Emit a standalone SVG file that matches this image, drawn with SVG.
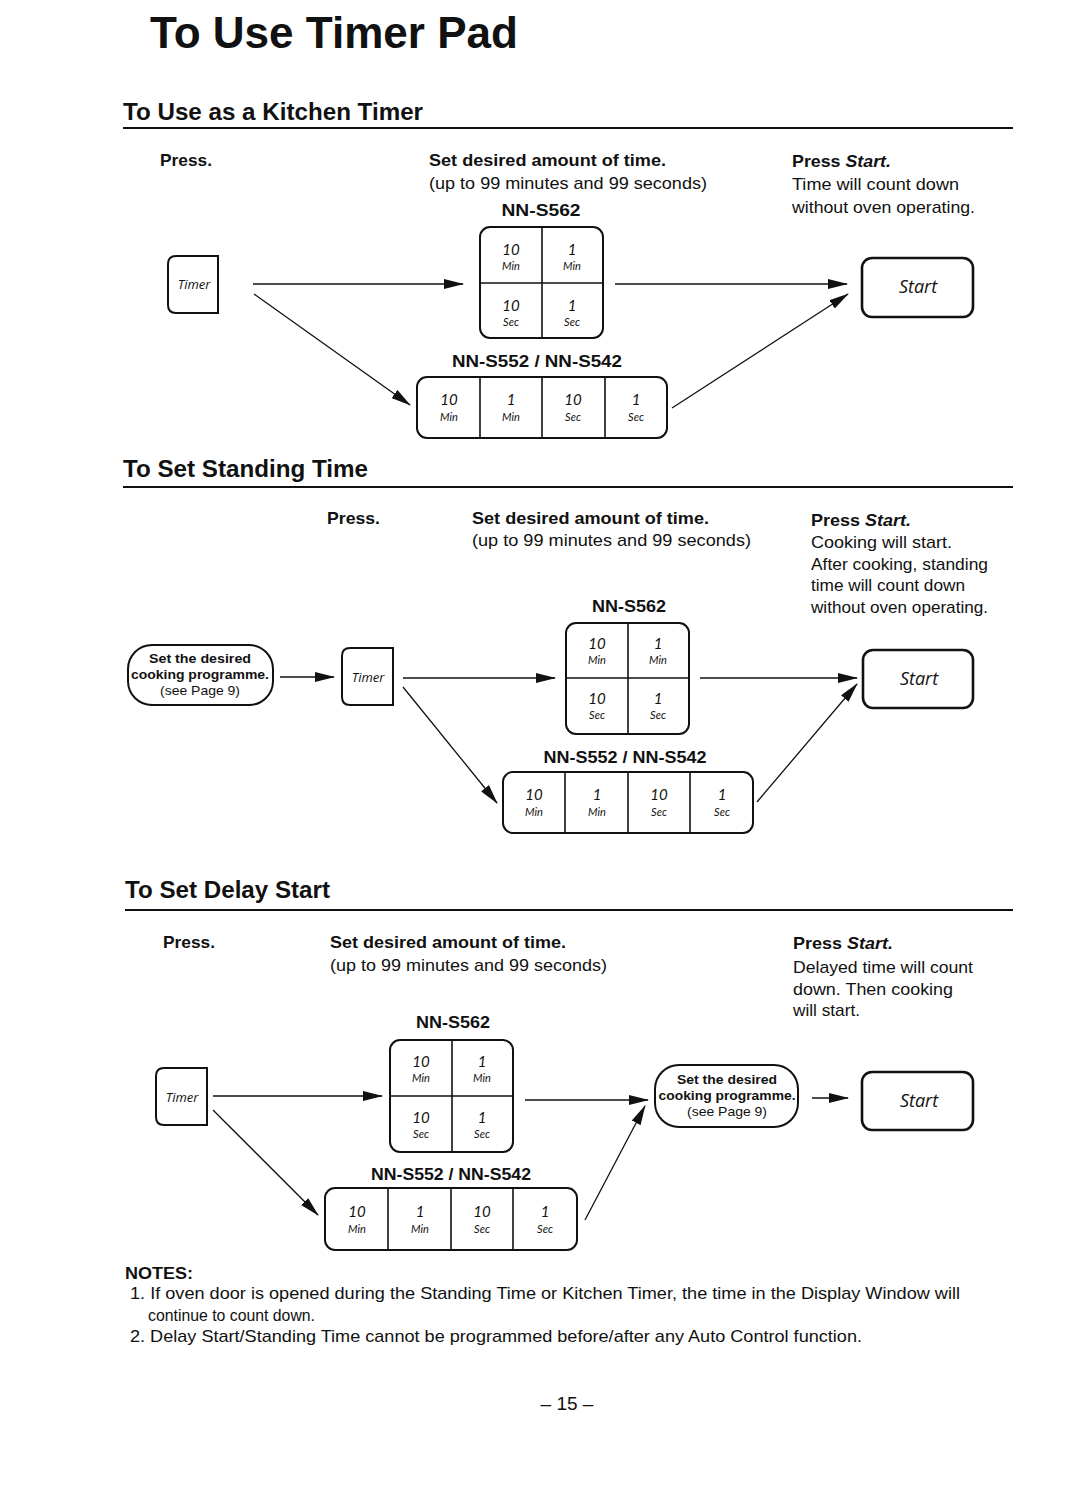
<svg xmlns="http://www.w3.org/2000/svg" width="1080" height="1510" viewBox="0 0 1080 1510">
<style>
text{font-family:"Liberation Sans",Arial,Helvetica,sans-serif;fill:#111}
.title{font-size:44px;font-weight:bold}
.h2{font-size:24px;font-weight:bold}
.lbl{font-size:17px;font-weight:bold}
.txt{font-size:17px}
.it{font-style:italic}
.model{font-size:17px;font-weight:bold;text-anchor:middle}
.k{font-family:Lato,"Open Sans",sans-serif;font-style:italic;text-anchor:middle;fill:#111}
.kn{font-size:15px}
.ku{font-size:11px}
.btn{font-family:"Open Sans","DejaVu Sans",sans-serif;font-style:italic;text-anchor:middle}
.bt{font-size:13px}
.bs{font-size:18px}
.ov{font-size:13px;text-anchor:middle}
.ovb{font-weight:bold}
.box{fill:#fff;stroke:#111;stroke-width:2}
.sbox{fill:#fff;stroke:#111;stroke-width:2.6}
.div{stroke:#111;stroke-width:1.6}
.rule{stroke:#111;stroke-width:2}
.con line{stroke:#111;stroke-width:1.3;marker-end:url(#ah)}
</style>
<defs>
<marker id="ah" markerUnits="userSpaceOnUse" markerWidth="20" markerHeight="10" refX="19" refY="5" orient="auto">
<path d="M0,0 L20,5 L0,10 z" fill="#111"/>
</marker>
</defs>
<rect width="1080" height="1510" fill="#fff"/>

<text class="title" x="150" y="48" textLength="368" lengthAdjust="spacingAndGlyphs">To Use Timer Pad</text>

<!-- Section 1 -->
<g id="sec1-heading">
<text class="h2" x="123" y="120" textLength="300" lengthAdjust="spacingAndGlyphs">To Use as a Kitchen Timer</text>
<line class="rule" x1="123" y1="128" x2="1013" y2="128"/>
</g>
<g id="sec1-texts">
<text class="lbl" x="160" y="166" textLength="52" lengthAdjust="spacingAndGlyphs">Press.</text>
<text class="lbl" x="429" y="166" textLength="237" lengthAdjust="spacingAndGlyphs">Set desired amount of time.</text>
<text class="txt" x="429" y="189" textLength="278" lengthAdjust="spacingAndGlyphs">(up to 99 minutes and 99 seconds)</text>
<text class="model" x="541" y="216" textLength="79" lengthAdjust="spacingAndGlyphs">NN-S562</text>
<text class="lbl" x="792" y="167" textLength="99" lengthAdjust="spacingAndGlyphs">Press <tspan class="it">Start.</tspan></text>
<text class="txt" x="792" y="190" textLength="167" lengthAdjust="spacingAndGlyphs">Time will count down</text>
<text class="txt" x="792" y="213" textLength="183" lengthAdjust="spacingAndGlyphs">without oven operating.</text>
<text class="model" x="537" y="367" textLength="170" lengthAdjust="spacingAndGlyphs">NN-S552 / NN-S542</text>
</g>
<g id="s1-timer">
<path class="box" d="M218,256 L176,256 Q168,256 168,264 L168,305 Q168,313 176,313 L218,313 Z"/>
<text class="btn bt" x="194" y="289">Timer</text>
</g>
<g id="s1-pad562" transform="translate(480,227)">
<rect class="box" x="0" y="0" width="123" height="111" rx="10"/>
<line class="div" x1="62" y1="0" x2="62" y2="111"/>
<line class="div" x1="0" y1="56" x2="123" y2="56"/>
<text class="k kn" x="31" y="28">10</text><text class="k ku" x="31" y="43">Min</text>
<text class="k kn" x="92" y="28">1</text><text class="k ku" x="92" y="43">Min</text>
<text class="k kn" x="31" y="84">10</text><text class="k ku" x="31" y="99">Sec</text>
<text class="k kn" x="92" y="84">1</text><text class="k ku" x="92" y="99">Sec</text>
</g>
<g id="s1-pad552" transform="translate(417,377)">
<rect class="box" x="0" y="0" width="250" height="61" rx="10"/>
<line class="div" x1="63" y1="0" x2="63" y2="61"/>
<line class="div" x1="125" y1="0" x2="125" y2="61"/>
<line class="div" x1="188" y1="0" x2="188" y2="61"/>
<text class="k kn" x="32" y="28">10</text><text class="k ku" x="32" y="44">Min</text>
<text class="k kn" x="94" y="28">1</text><text class="k ku" x="94" y="44">Min</text>
<text class="k kn" x="156" y="28">10</text><text class="k ku" x="156" y="44">Sec</text>
<text class="k kn" x="219" y="28">1</text><text class="k ku" x="219" y="44">Sec</text>
</g>
<g id="s1-start">
<rect class="sbox" x="862" y="258" width="111" height="59" rx="10"/>
<text class="btn bs" x="918" y="293">Start</text>
</g>

<!-- Section 2 -->
<g id="sec2-heading">
<text class="h2" x="123" y="477" textLength="245" lengthAdjust="spacingAndGlyphs">To Set Standing Time</text>
<line class="rule" x1="123" y1="487" x2="1013" y2="487"/>
</g>
<g id="sec2-texts">
<text class="lbl" x="327" y="524" textLength="53" lengthAdjust="spacingAndGlyphs">Press.</text>
<text class="lbl" x="472" y="524" textLength="237" lengthAdjust="spacingAndGlyphs">Set desired amount of time.</text>
<text class="txt" x="472" y="546" textLength="279" lengthAdjust="spacingAndGlyphs">(up to 99 minutes and 99 seconds)</text>
<text class="lbl" x="811" y="526" textLength="100" lengthAdjust="spacingAndGlyphs">Press <tspan class="it">Start.</tspan></text>
<text class="txt" x="811" y="548" textLength="141" lengthAdjust="spacingAndGlyphs">Cooking will start.</text>
<text class="txt" x="811" y="570" textLength="177" lengthAdjust="spacingAndGlyphs">After cooking, standing</text>
<text class="txt" x="811" y="591" textLength="154" lengthAdjust="spacingAndGlyphs">time will count down</text>
<text class="txt" x="811" y="613" textLength="177" lengthAdjust="spacingAndGlyphs">without oven operating.</text>
<text class="model" x="629" y="612" textLength="74" lengthAdjust="spacingAndGlyphs">NN-S562</text>
<text class="model" x="625" y="763" textLength="163" lengthAdjust="spacingAndGlyphs">NN-S552 / NN-S542</text>
</g>
<g id="s2-programme">
<rect class="box" x="128" y="645" width="145" height="60" rx="24"/>
<text class="ov ovb" x="200" y="663" textLength="102" lengthAdjust="spacingAndGlyphs">Set the desired</text>
<text class="ov ovb" x="200" y="679" textLength="138" lengthAdjust="spacingAndGlyphs">cooking programme.</text>
<text class="ov" x="200" y="695" textLength="80" lengthAdjust="spacingAndGlyphs">(see Page 9)</text>
</g>
<g id="s2-timer">
<path class="box" d="M393,648 L350,648 Q342,648 342,656 L342,697 Q342,705 350,705 L393,705 Z"/>
<text class="btn bt" x="368" y="682">Timer</text>
</g>
<g id="s2-pad562" transform="translate(566,623)">
<rect class="box" x="0" y="0" width="123" height="111" rx="10"/>
<line class="div" x1="62" y1="0" x2="62" y2="111"/>
<line class="div" x1="0" y1="55" x2="123" y2="55"/>
<text class="k kn" x="31" y="26">10</text><text class="k ku" x="31" y="41">Min</text>
<text class="k kn" x="92" y="26">1</text><text class="k ku" x="92" y="41">Min</text>
<text class="k kn" x="31" y="81">10</text><text class="k ku" x="31" y="96">Sec</text>
<text class="k kn" x="92" y="81">1</text><text class="k ku" x="92" y="96">Sec</text>
</g>
<g id="s2-pad552" transform="translate(503,772)">
<rect class="box" x="0" y="0" width="250" height="61" rx="10"/>
<line class="div" x1="62" y1="0" x2="62" y2="61"/>
<line class="div" x1="125" y1="0" x2="125" y2="61"/>
<line class="div" x1="187" y1="0" x2="187" y2="61"/>
<text class="k kn" x="31" y="28">10</text><text class="k ku" x="31" y="44">Min</text>
<text class="k kn" x="94" y="28">1</text><text class="k ku" x="94" y="44">Min</text>
<text class="k kn" x="156" y="28">10</text><text class="k ku" x="156" y="44">Sec</text>
<text class="k kn" x="219" y="28">1</text><text class="k ku" x="219" y="44">Sec</text>
</g>
<g id="s2-start">
<rect class="sbox" x="863" y="650" width="110" height="58" rx="10"/>
<text class="btn bs" x="919" y="685">Start</text>
</g>

<!-- Section 3 -->
<g id="sec3-heading">
<text class="h2" x="125" y="898" textLength="205" lengthAdjust="spacingAndGlyphs">To Set Delay Start</text>
<line class="rule" x1="125" y1="910" x2="1013" y2="910"/>
</g>
<g id="sec3-texts">
<text class="lbl" x="163" y="948" textLength="52" lengthAdjust="spacingAndGlyphs">Press.</text>
<text class="lbl" x="330" y="948" textLength="236" lengthAdjust="spacingAndGlyphs">Set desired amount of time.</text>
<text class="txt" x="330" y="971" textLength="277" lengthAdjust="spacingAndGlyphs">(up to 99 minutes and 99 seconds)</text>
<text class="lbl" x="793" y="949" textLength="100" lengthAdjust="spacingAndGlyphs">Press <tspan class="it">Start.</tspan></text>
<text class="txt" x="793" y="973" textLength="180" lengthAdjust="spacingAndGlyphs">Delayed time will count</text>
<text class="txt" x="793" y="995" textLength="160" lengthAdjust="spacingAndGlyphs">down. Then cooking</text>
<text class="txt" x="793" y="1016" textLength="67" lengthAdjust="spacingAndGlyphs">will start.</text>
<text class="model" x="453" y="1028" textLength="74" lengthAdjust="spacingAndGlyphs">NN-S562</text>
<text class="model" x="451" y="1180" textLength="160" lengthAdjust="spacingAndGlyphs">NN-S552 / NN-S542</text>
</g>
<g id="s3-timer">
<path class="box" d="M207,1068 L164,1068 Q156,1068 156,1076 L156,1117 Q156,1125 164,1125 L207,1125 Z"/>
<text class="btn bt" x="182" y="1102">Timer</text>
</g>
<g id="s3-pad562" transform="translate(390,1040)">
<rect class="box" x="0" y="0" width="123" height="112" rx="10"/>
<line class="div" x1="62" y1="0" x2="62" y2="112"/>
<line class="div" x1="0" y1="56" x2="123" y2="56"/>
<text class="k kn" x="31" y="27">10</text><text class="k ku" x="31" y="42">Min</text>
<text class="k kn" x="92" y="27">1</text><text class="k ku" x="92" y="42">Min</text>
<text class="k kn" x="31" y="83">10</text><text class="k ku" x="31" y="98">Sec</text>
<text class="k kn" x="92" y="83">1</text><text class="k ku" x="92" y="98">Sec</text>
</g>
<g id="s3-pad552" transform="translate(325,1188)">
<rect class="box" x="0" y="0" width="252" height="62" rx="10"/>
<line class="div" x1="63" y1="0" x2="63" y2="62"/>
<line class="div" x1="126" y1="0" x2="126" y2="62"/>
<line class="div" x1="188" y1="0" x2="188" y2="62"/>
<text class="k kn" x="32" y="29">10</text><text class="k ku" x="32" y="45">Min</text>
<text class="k kn" x="95" y="29">1</text><text class="k ku" x="95" y="45">Min</text>
<text class="k kn" x="157" y="29">10</text><text class="k ku" x="157" y="45">Sec</text>
<text class="k kn" x="220" y="29">1</text><text class="k ku" x="220" y="45">Sec</text>
</g>
<g id="s3-programme">
<rect class="box" x="655" y="1065" width="143" height="62" rx="24"/>
<text class="ov ovb" x="727" y="1084" textLength="100" lengthAdjust="spacingAndGlyphs">Set the desired</text>
<text class="ov ovb" x="727" y="1100" textLength="137" lengthAdjust="spacingAndGlyphs">cooking programme.</text>
<text class="ov" x="727" y="1116" textLength="80" lengthAdjust="spacingAndGlyphs">(see Page 9)</text>
</g>
<g id="s3-start">
<rect class="sbox" x="862" y="1072" width="111" height="58" rx="10"/>
<text class="btn bs" x="919" y="1107">Start</text>
</g>

<!-- Connectors -->
<g id="connectors" class="con">
<line x1="253" y1="284" x2="463" y2="284"/>
<line x1="615" y1="284" x2="847" y2="284"/>
<line x1="254" y1="294" x2="410" y2="405"/>
<line x1="672" y1="408" x2="848" y2="294"/>

<line x1="280" y1="677" x2="334" y2="677"/>
<line x1="403" y1="678" x2="555" y2="678"/>
<line x1="700" y1="678" x2="857" y2="678"/>
<line x1="403" y1="687" x2="497" y2="803"/>
<line x1="757" y1="802" x2="857" y2="684"/>

<line x1="213" y1="1096" x2="382" y2="1096"/>
<line x1="525" y1="1100" x2="648" y2="1100"/>
<line x1="213" y1="1110" x2="318" y2="1215"/>
<line x1="585" y1="1220" x2="645" y2="1106"/>
<line x1="812" y1="1098" x2="848" y2="1098"/>
</g>

<!-- Notes -->
<g id="notes">
<text class="lbl" x="125" y="1279" textLength="68" lengthAdjust="spacingAndGlyphs">NOTES:</text>
<text class="txt" x="130" y="1299" textLength="830" lengthAdjust="spacingAndGlyphs">1. If oven door is opened during the Standing Time or Kitchen Timer, the time in the Display Window will</text>
<text class="txt" x="148" y="1321" textLength="167" lengthAdjust="spacingAndGlyphs">continue to count down.</text>
<text class="txt" x="130" y="1342" textLength="732" lengthAdjust="spacingAndGlyphs">2. Delay Start/Standing Time cannot be programmed before/after any Auto Control function.</text>
</g>
<text class="txt" x="567" y="1410" text-anchor="middle" style="font-size:19px">– 15 –</text>
</svg>
